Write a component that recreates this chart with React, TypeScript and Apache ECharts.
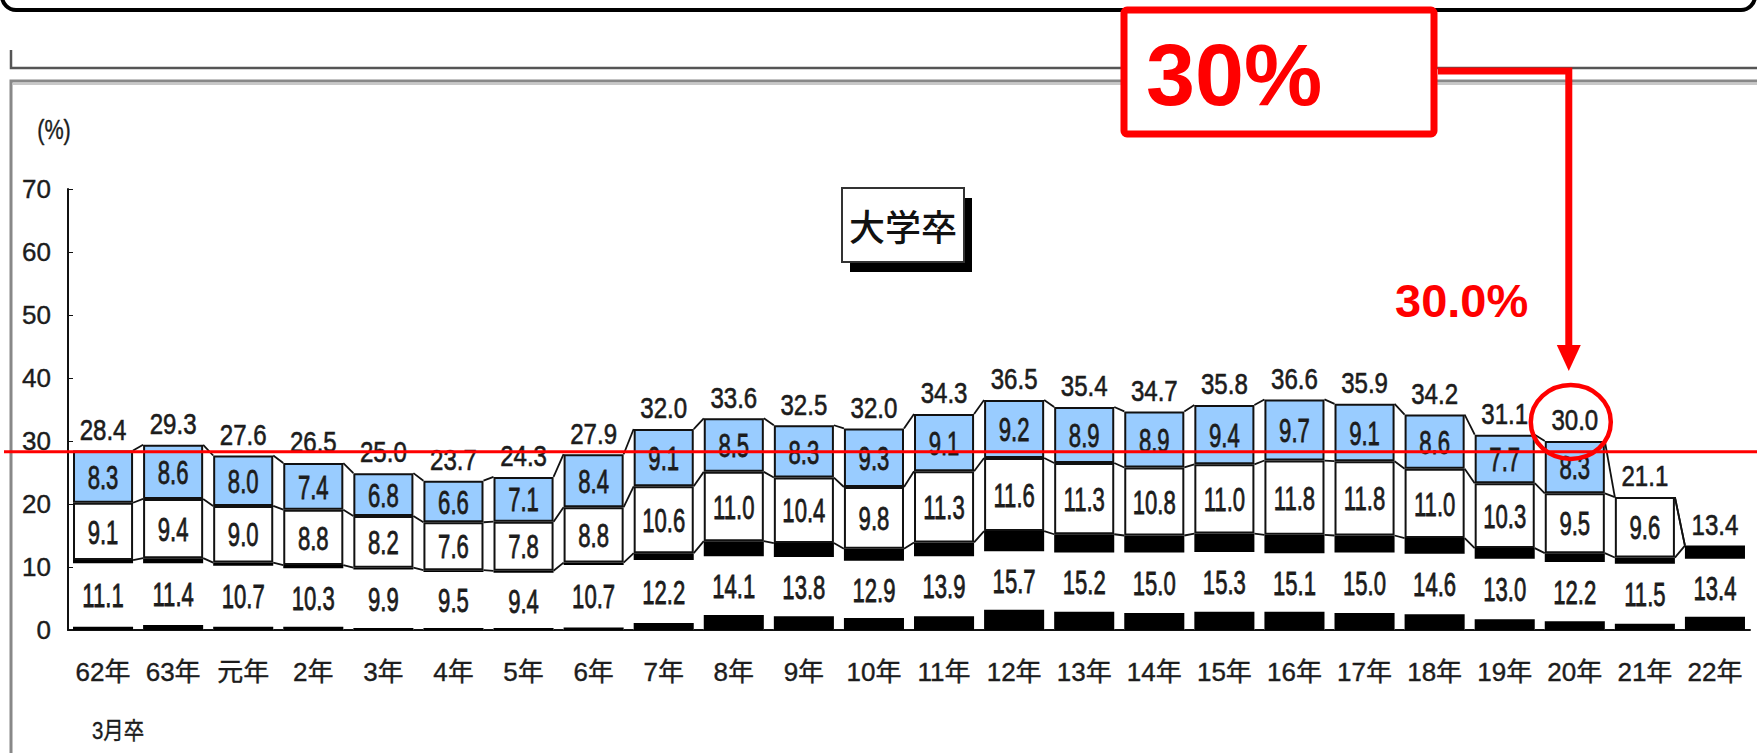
import React, { useEffect, useRef } from "react";
import * as echarts from "echarts";

// ---- data ----
const categories = ["62年", "63年", "元年", "2年", "3年", "4年", "5年", "6年", "7年", "8年", "9年", "10年", "11年", "12年", "13年", "14年", "15年", "16年", "17年", "18年", "19年", "20年", "21年", "22年"];
const year1 = [11.1, 11.4, 10.7, 10.3, 9.9, 9.5, 9.4, 10.7, 12.2, 14.1, 13.8, 12.9, 13.9, 15.7, 15.2, 15.0, 15.3, 15.1, 15.0, 14.6, 13.0, 12.2, 11.5, 13.4];
const year2 = [9.1, 9.4, 9.0, 8.8, 8.2, 7.6, 7.8, 8.8, 10.6, 11.0, 10.4, 9.8, 11.3, 11.6, 11.3, 10.8, 11.0, 11.8, 11.8, 11.0, 10.3, 9.5, 9.6, null];
const year3 = [8.3, 8.6, 8.0, 7.4, 6.8, 6.6, 7.1, 8.4, 9.1, 8.5, 8.3, 9.3, 9.1, 9.2, 8.9, 8.9, 9.4, 9.7, 9.1, 8.6, 7.7, 8.3, null, null];
const totals = [28.4, 29.3, 27.6, 26.5, 25.0, 23.7, 24.3, 27.9, 32.0, 33.6, 32.5, 32.0, 34.3, 36.5, 35.4, 34.7, 35.8, 36.6, 35.9, 34.2, 31.1, 30.0, 21.1, 13.4];
// thickness (in % units) of the black shading strips under the boxes
const shade = [0.5, 0.8, 0.5, 0.5, 0.3, 0.3, 0.3, 0.4, 1.1, 2.4, 2.2, 1.9, 2.2, 3.2, 2.9, 2.7, 2.9, 2.9, 2.7, 2.5, 1.7, 1.4, 1.0, 2.1];
const yMin = 0;
const yMax = 70;
const yInterval = 10;
const refLevel = 28.3; // red reference line
const highlightCategory = "20年";
const highlightValue = 30.0;
const titleText = "大学卒";
const unitText = "(%)";
const footText = "3月卒";
const bigNote = "30%";
const smallNote = "30.0%";

const SANS = "'Liberation Sans', Arial, 'Noto Sans CJK JP', sans-serif";
const BAR_RATIO = 0.857;
const TEXT = "#1c1c1c";

function levels(i: number): number[] {
  const l1 = year1[i];
  const l2 = l1 + (year2[i] ?? 0);
  const l3 = l2 + (year3[i] ?? 0);
  return [0, l1, l2, l3];
}

function condensedText(x: number, y: number, text: string, size: number, scaleX: number, va: string, weight: number) {
  return {
    type: "text",
    x,
    y,
    scaleX,
    style: {
      text, x: 0, y: 0, fontSize: size, fontFamily: SANS, fill: TEXT,
      stroke: TEXT, lineWidth: weight, align: "center", verticalAlign: va,
    },
  };
}

export default function App() {
  const ref = useRef<HTMLDivElement>(null);
  useEffect(() => {
    if (!ref.current) return;
    const chart = echarts.init(ref.current, null, { renderer: "svg" });
    chart.setOption({
      animation: false,
      textStyle: { fontFamily: SANS },
      grid: { left: 68, right: 7, top: 189, bottom: 123 },
      xAxis: {
        type: "category",
        data: categories,
        axisLine: { lineStyle: { color: "#111", width: 2 } },
        axisTick: { inside: true, length: 5, lineStyle: { color: "#111" } },
        axisLabel: { fontSize: 26, color: TEXT, margin: 29, fontFamily: SANS, interval: 0, textBorderColor: TEXT, textBorderWidth: 0.4 },
      },
      yAxis: {
        type: "value",
        min: yMin,
        max: yMax,
        interval: yInterval,
        axisLine: { show: true, lineStyle: { color: "#111", width: 2 } },
        axisTick: { show: true, inside: true, length: 5, lineStyle: { color: "#111" } },
        splitLine: { show: false },
        axisLabel: { fontSize: 26, color: TEXT, margin: 17, fontFamily: SANS, textBorderColor: TEXT, textBorderWidth: 0.4 },
      },
      series: [
        {
          name: "1年目",
          type: "bar",
          stack: "total",
          barWidth: (BAR_RATIO * 100).toFixed(1) + "%",
          data: year1,
          itemStyle: { color: "#ffffff" },
          z: 2,
        },
        {
          name: "2年目",
          type: "bar",
          stack: "total",
          data: year2,
          itemStyle: { color: "#ffffff", borderColor: "#111", borderWidth: 2 },
          z: 2,
        },
        {
          name: "3年目",
          type: "bar",
          stack: "total",
          data: year3,
          itemStyle: { color: "#99ccff", borderColor: "#111", borderWidth: 2 },
          z: 2,
        },
        {
          name: "shade",
          type: "custom",
          z: 3,
          data: categories.map((_, i) => [i, totals[i]]),
          encode: { x: 0, y: 1 },
          renderItem: (params: any, api: any) => {
            const i = api.value(0);
            const band = api.size([1, 0])[0];
            const bw = band * BAR_RATIO;
            const children: any[] = [];
            const s = shade[i];
            const rect = (v0: number, v1: number) => {
              const a = api.coord([i, v0]);
              const b = api.coord([i, v1]);
              children.push({
                type: "rect",
                shape: { x: a[0] - bw / 2, y: b[1], width: bw, height: a[1] - b[1] },
                style: { fill: "#000" },
              });
            };
            rect(0, s);
            rect(year1[i] - s, year1[i]);
            if (i < categories.length - 1) {
              const a = levels(i);
              const b = levels(i + 1);
              for (let k = 1; k < 4; k++) {
                const p = api.coord([i, a[k]]);
                const q = api.coord([i + 1, b[k]]);
                children.push({
                  type: "line",
                  shape: { x1: p[0] + bw / 2, y1: p[1], x2: q[0] - bw / 2, y2: q[1] },
                  style: { stroke: "#111", lineWidth: 1.8 },
                });
              }
            }
            return { type: "group", children };
          },
        },
        {
          name: "labels",
          type: "custom",
          z: 5,
          data: categories.map((_, i) => [i, totals[i]]),
          encode: { x: 0, y: 1 },
          renderItem: (params: any, api: any) => {
            const i = api.value(0);
            const children: any[] = [];
            const segs = [year1[i], year2[i], year3[i]];
            let base = 0;
            for (const v of segs) {
              if (v == null) break;
              const c = api.coord([i, base + v / 2]);
              children.push(condensedText(c[0], c[1] + 1, v.toFixed(1), 33, 0.67, "middle", 0.8));
              base += v;
            }
            const t = api.coord([i, base]);
            children.push(condensedText(t[0], t[1] - 6, totals[i].toFixed(1), 29, 0.83, "bottom", 0.6));
            return { type: "group", children };
          },
        },
      ],
    });

    const yRef = chart.convertToPixel({ yAxisIndex: 0 }, refLevel) as number;
    const hx = chart.convertToPixel({ xAxisIndex: 0 }, highlightCategory) as number;
    const hy = chart.convertToPixel({ yAxisIndex: 0 }, highlightValue) as number;

    chart.setOption({
      graphic: {
        elements: [
          { type: "rect", z: 50, shape: { x: 2, y: -40, width: 1753, height: 50, r: 14 }, style: { fill: "none", stroke: "#000", lineWidth: 4 } },
          { type: "polyline", z: 50, shape: { points: [[11, 50], [11, 68], [1757, 68]] }, style: { fill: "none", stroke: "#555", lineWidth: 2.5 } },
          { type: "polyline", z: 50, shape: { points: [[11, 753], [11, 81], [1757, 81]] }, style: { fill: "none", stroke: "#888", lineWidth: 3 } },
          { type: "line", z: 50, shape: { x1: 13, y1: 84, x2: 1757, y2: 84 }, style: { stroke: "#c8c8c8", lineWidth: 2 } },
          { type: "text", z: 50, x: 54, y: 130, scaleX: 0.8, style: { text: unitText, x: 0, y: 0, fontSize: 27, fontFamily: SANS, fill: TEXT, stroke: TEXT, lineWidth: 0.4, align: "center", verticalAlign: "middle" } },
          { type: "text", z: 50, x: 118, y: 731, scaleX: 0.85, style: { text: footText, x: 0, y: 0, fontSize: 24, fontFamily: SANS, fill: TEXT, stroke: TEXT, lineWidth: 0.4, align: "center", verticalAlign: "middle" } },
          { type: "rect", z: 50, shape: { x: 850, y: 198, width: 122, height: 74 }, style: { fill: "#000" } },
          { type: "rect", z: 51, shape: { x: 842, y: 188, width: 122, height: 74 }, style: { fill: "#fff", stroke: "#333", lineWidth: 2 } },
          { type: "text", z: 52, style: { text: titleText, x: 903, y: 225, fontSize: 36, fontWeight: 500, fontFamily: "'Noto Sans CJK JP', sans-serif", fill: "#111", align: "center", verticalAlign: "middle" } },
          // red annotations
          { type: "line", z: 100, shape: { x1: 4, y1: yRef, x2: 1757, y2: yRef }, style: { stroke: "#ff0000", lineWidth: 3 } },
          { type: "rect", z: 100, shape: { x: 1124, y: 10, width: 310, height: 124, r: 3 }, style: { fill: "#fff", stroke: "#ff0000", lineWidth: 7 } },
          { type: "text", z: 101, style: { text: bigNote, x: 1146, y: 74, fontSize: 88, fontWeight: "bold", fontFamily: SANS, fill: "#ff0000", align: "left", verticalAlign: "middle" } },
          { type: "polyline", z: 100, shape: { points: [[1438, 71], [hx - 6, 71], [hx - 6, hy - 95]] }, style: { fill: "none", stroke: "#ff0000", lineWidth: 7 } },
          { type: "polygon", z: 100, shape: { points: [[hx - 18, hy - 96], [hx + 6, hy - 96], [hx - 6, hy - 70]] }, style: { fill: "#ff0000" } },
          { type: "text", z: 101, style: { text: smallNote, x: 1395, y: 300, fontSize: 47, fontWeight: "bold", fontFamily: SANS, fill: "#ff0000", align: "left", verticalAlign: "middle" } },
          { type: "ellipse", z: 100, shape: { cx: hx - 4, cy: hy - 19, rx: 40, ry: 37 }, style: { fill: "none", stroke: "#ff0000", lineWidth: 4.5 } },
        ],
      },
    });

    return () => chart.dispose();
  }, []);
  return <div ref={ref} style={{ position: "fixed", left: 0, top: 0, width: 1757, height: 753, background: "#fff" }} />;
}
